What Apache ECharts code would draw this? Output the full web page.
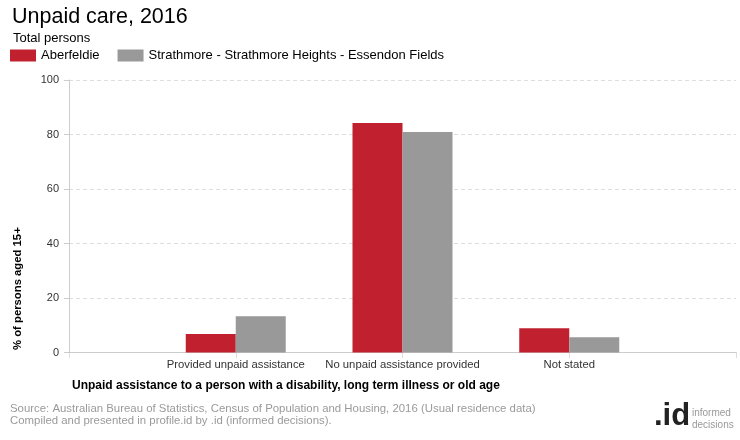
<!DOCTYPE html>
<html>
<head>
<meta charset="utf-8">
<script src="https://cdn.jsdelivr.net/npm/echarts@6/dist/echarts.min.js"></script>
<style>
html,body{margin:0;padding:0;background:#fff;}
#chart{width:740px;height:440px;}
</style>
</head>
<body>
<div id="chart"></div>
<script>
var categories = ['', 'Provided unpaid assistance', 'No unpaid assistance provided', 'Not stated', ''];
var seriesNames = ['Aberfeldie', 'Strathmore - Strathmore Heights - Essendon Fields'];
var aberfeldie = [null, 6.8, 84.2, 8.9, null];
var strathmore = [null, 13.3, 80.9, 5.6, null];
var yTicks = [0, 20, 40, 60, 80, 100];

var FONT = '"Liberation Sans", Arial, sans-serif';
var chart = echarts.init(document.getElementById('chart'), null, {renderer: 'canvas'});
chart.setOption({
  animation: false,
  backgroundColor: '#fff',
  textStyle: {fontFamily: FONT},
  title: [
    {text: 'Unpaid care, 2016', left: 7, top: 1, textStyle: {fontSize: 21.5, fontWeight: 'normal', color: '#000', fontFamily: FONT}},
    {text: 'Total persons', left: 8, top: 27, textStyle: {fontSize: 13, fontWeight: 'normal', color: '#000', fontFamily: FONT}}
  ],
  legend: {
    left: 10, top: 49, padding: 0, itemWidth: 26, itemHeight: 12, itemGap: 18,
    icon: 'rect',
    textStyle: {fontSize: 13, color: '#000', fontFamily: FONT},
    data: seriesNames
  },
  grid: {left: 69, right: 4, top: 80, bottom: 87.5, containLabel: false},
  xAxis: {
    type: 'category',
    data: categories,
    boundaryGap: false,
    axisLine: {lineStyle: {color: '#cccccc', width: 1}},
    axisTick: {show: true, length: 6, lineStyle: {color: '#bbbbbb', type: [1, 1]}},
    axisLabel: {fontSize: 11.3, color: '#333', margin: 7, interval: 0, fontFamily: FONT},
    splitLine: {show: false}
  },
  yAxis: {
    type: 'value',
    min: 0, max: 100, interval: 20,
    axisLine: {show: true, lineStyle: {color: '#cccccc'}},
    axisTick: {show: true, length: 5, lineStyle: {color: '#cccccc'}},
    axisLabel: {fontSize: 11, color: '#333', margin: 10, fontFamily: FONT,
      formatter: function (v) { return yTicks.indexOf(v) >= 0 ? String(v) : ''; }},
    splitLine: {show: true, lineStyle: {color: '#dddddd', type: [4, 3]}}
  },
  series: [
    {name: seriesNames[0], type: 'bar', data: aberfeldie, barWidth: 50, barGap: '0%', itemStyle: {color: '#c1202f'}},
    {name: seriesNames[1], type: 'bar', data: strathmore, barWidth: 50, barGap: '0%', itemStyle: {color: '#999999'}}
  ],
  graphic: [
    {type: 'text', left: 72, top: 380, style: {text: 'Unpaid assistance to a person with a disability, long term illness or old age', font: 'bold 12px ' + FONT, fill: '#000'}},
    {type: 'text', rotation: Math.PI / 2, x: 12, y: 350, style: {text: '% of persons aged 15+', font: 'bold 11.3px ' + FONT, fill: '#000'}},
    {type: 'text', left: 10, top: 403, style: {text: 'Source: Australian Bureau of Statistics, Census of Population and Housing, 2016 (Usual residence data)', font: '11.4px ' + FONT, fill: '#9a9a9a'}},
    {type: 'text', left: 10, top: 415, style: {text: 'Compiled and presented in profile.id by .id (informed decisions).', font: '11.4px ' + FONT, fill: '#9a9a9a'}},
    {type: 'text', left: 654, top: 401, style: {text: '.id', font: 'bold 31px ' + FONT, fill: '#222'}},
    {type: 'text', left: 692, top: 408, style: {text: 'informed', font: '10px ' + FONT, fill: '#999'}},
    {type: 'text', left: 692, top: 420, style: {text: 'decisions', font: '10px ' + FONT, fill: '#999'}}
  ]
});
</script>
</body>
</html>
